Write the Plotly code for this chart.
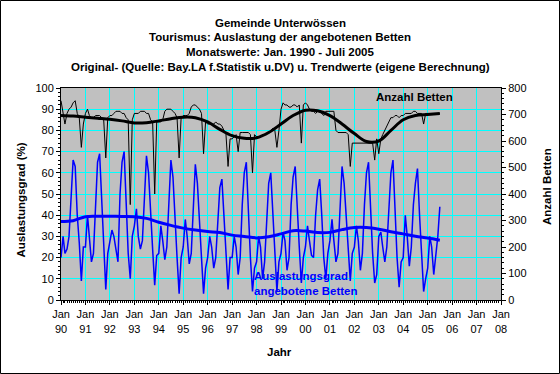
import pandas as pd
import plotly.graph_objects as go

# ---------------- data ----------------
# Auslastungsgrad (%) monthly, Jan..Dec
a1990 = [20, 30, 22, 24, 30, 52, 66, 63, 40, 27, 9, 25]
a1991 = [25, 40, 30, 18, 22, 45, 65, 69, 45, 25, 5, 22]
a1992 = [28, 33, 30, 24, 18, 50, 65, 70, 48, 22, 10, 30]
a1993 = [35, 43, 30, 24, 28, 50, 68, 60, 38, 24, 7, 21]
a1994 = [22, 35, 28, 19, 25, 45, 66, 58, 35, 20, 3, 20]
a1995 = [25, 38, 30, 17, 22, 45, 64, 55, 35, 20, 3, 15]
a1996 = [20, 30, 25, 15, 20, 40, 53, 57, 40, 25, 5, 20]
a1997 = [20, 30, 25, 12, 20, 45, 60, 65, 40, 20, 4, 15]
a1998 = [18, 30, 25, 10, 18, 40, 55, 60, 40, 20, 4, 18]
a1999 = [22, 32, 28, 14, 20, 45, 58, 63, 40, 25, 8, 20]
a2000 = [25, 35, 28, 21, 20, 40, 52, 57, 40, 20, 10, 22]
a2001 = [28, 38, 28, 18, 22, 45, 63, 55, 38, 22, 9, 22]
a2002 = [25, 35, 28, 14, 22, 45, 60, 65, 40, 22, 8, 12]
a2003 = [30, 32, 25, 18, 25, 45, 60, 66, 40, 20, 6, 18]
a2004 = [20, 40, 30, 16, 25, 45, 55, 62, 40, 20, 4, 10]
a2005 = [15, 30, 25, 12, 20, 30, 44]

# Anzahl Betten monthly, Jan..Dec
b1990 = [752, 696, 664, 704, 720, 728, 744, 752, 704, 688, 576, 664]
b1991 = [704, 720, 696, 688, 688, 696, 696, 696, 688, 680, 536, 688]
b1992 = [696, 696, 704, 712, 712, 712, 704, 704, 688, 680, 360, 680]
b1993 = [704, 704, 704, 712, 712, 712, 704, 704, 680, 672, 400, 672]
b1994 = [672, 672, 680, 712, 720, 720, 720, 712, 704, 688, 536, 688]
b1995 = [696, 696, 696, 704, 728, 736, 736, 728, 720, 704, 552, 672]
b1996 = [664, 664, 664, 664, 672, 664, 664, 656, 640, 624, 504, 608]
b1997 = [608, 616, 624, 560, 632, 632, 632, 632, 632, 624, 480, 624]
b1998 = [616, 616, 616, 624, 624, 624, 632, 640, 648, 640, 576, 640]
b1999 = [720, 744, 736, 736, 728, 728, 736, 736, 728, 736, 592, 736]
b2000 = [744, 736, 720, 712, 712, 704, 712, 712, 704, 696, 712, 712]
b2001 = [712, 712, 712, 640, 632, 632, 632, 632, 632, 624, 504, 592]
b2002 = [592, 592, 592, 592, 592, 592, 592, 592, 592, 592, 528, 608]
b2003 = [552, 608, 624, 640, 656, 672, 688, 688, 696, 696, 688, 696]
b2004 = [696, 704, 704, 704, 704, 712, 712, 704, 704, 704, 664, 704]
b2005 = [704, 704, 704, 704, 704, 704, 704]

# Trend values (month index from Jan 1990)
trend_months = [0, 6, 12, 18, 24, 30, 36, 42, 48, 54, 60, 66, 72, 78, 84, 90,
                96, 102, 108, 114, 120, 126, 132, 138, 144, 150, 156, 162, 168,
                174, 180, 186]
trend_auslastung = [37, 37.4, 39.3, 39.5, 39.5, 39.4, 39.3, 38.5, 36.7, 35.2,
                    33.9, 33.0, 32.3, 31.8, 30.6, 30.0, 29.3, 29.8, 31.2, 32.7,
                    32.5, 31.8, 31.9, 33.2, 34.2, 34.2, 33.4, 32.2, 31.2, 30.1,
                    29.2, 28.2]
trend_betten = [696, 694, 690, 686, 682, 676, 668, 669, 676, 684, 690, 688,
                672, 644, 620, 610, 612, 632, 664, 696, 716, 714, 696, 664,
                628, 598, 600, 640, 680, 696, 700, 704]

tick_labels = ["Jan<br>90", "Jan<br>91", "Jan<br>92", "Jan<br>93", "Jan<br>94",
               "Jan<br>95", "Jan<br>96", "Jan<br>97", "Jan<br>98", "Jan<br>99",
               "Jan<br>00", "Jan<br>01", "Jan<br>02", "Jan<br>03", "Jan<br>04",
               "Jan<br>05", "Jan<br>06", "Jan<br>07", "Jan<br>08"]

auslastung = (a1990 + a1991 + a1992 + a1993 + a1994 + a1995 + a1996 + a1997 +
              a1998 + a1999 + a2000 + a2001 + a2002 + a2003 + a2004 + a2005)
betten = (b1990 + b1991 + b1992 + b1993 + b1994 + b1995 + b1996 + b1997 +
          b1998 + b1999 + b2000 + b2001 + b2002 + b2003 + b2004 + b2005)

dates = pd.date_range("1990-01-01", periods=len(auslastung), freq="MS")
trend_dates = [dates[i] for i in trend_months]
tick_dates = pd.date_range("1990-01-01", "2008-01-01", freq="YS")

FONT = "Liberation Sans, Arial, sans-serif"

fig = go.Figure()
fig.add_trace(go.Scatter(x=dates, y=betten, yaxis="y2", mode="lines",
                         line=dict(color="black", width=1), hoverinfo="skip"))
fig.add_trace(go.Scatter(x=trend_dates, y=trend_betten, yaxis="y2", mode="lines",
                         line=dict(color="black", width=3, shape="spline"),
                         hoverinfo="skip"))
fig.add_trace(go.Scatter(x=dates, y=auslastung, mode="lines",
                         line=dict(color="#0000FF", width=1.5), hoverinfo="skip"))
fig.add_trace(go.Scatter(x=trend_dates, y=trend_auslastung, mode="lines",
                         line=dict(color="#0000FF", width=3, shape="spline"),
                         hoverinfo="skip"))

W, H = 560, 374
L, R, T, B = 61, 59, 88, 74
pw, ph = W - L - R, H - T - B

def px(x):
    return (x - L) / pw

def py(y):
    return (H - B - y) / ph

fig.update_layout(
    width=W, height=H,
    margin=dict(l=L, r=R, t=T, b=B, pad=0),
    paper_bgcolor="white", plot_bgcolor="#C0C0C0",
    showlegend=False,
    font=dict(family=FONT, size=11, color="black"),
    xaxis=dict(
        type="date",
        range=[tick_dates[0], tick_dates[-1]],
        tickvals=list(tick_dates), ticktext=tick_labels,
        showgrid=True, gridcolor="#00FFFF", gridwidth=1,
        ticks="outside", ticklen=4, tickcolor="black",
        minor=dict(dtick="M1", ticks="outside", ticklen=2, tickcolor="black",
                   showgrid=False),
        showline=True, linecolor="black", linewidth=1, mirror=True,
        zeroline=False, tickangle=0,
        tickfont=dict(size=11),
    ),
    yaxis=dict(
        range=[0, 100], dtick=10, tick0=0,
        showgrid=True, gridcolor="#00FFFF", gridwidth=1,
        ticks="outside", ticklen=4, tickcolor="black",
        minor=dict(dtick=2, ticks="outside", ticklen=2, tickcolor="black",
                   showgrid=False),
        showline=True, linecolor="black", linewidth=1,
        zeroline=False, tickfont=dict(size=11),
    ),
    yaxis2=dict(
        range=[0, 800], dtick=100, tick0=0, overlaying="y", side="right",
        showgrid=False, ticks="outside", ticklen=4, tickcolor="black",
        minor=dict(dtick=20, ticks="outside", ticklen=2, tickcolor="black"),
        showline=True, linecolor="black", linewidth=1,
        zeroline=False, tickfont=dict(size=11),
    ),
)

titles = ["Gemeinde Unterwössen",
          "Tourismus: Auslastung der angebotenen Betten",
          "Monatswerte: Jan. 1990 - Juli 2005",
          "Original- (Quelle: Bay.LA f.Statistik u.DV) u. Trendwerte (eigene Berechnung)"]
title_y = [22.7, 36.7, 52.3, 66.7]
annotations = []
for t, yy in zip(titles, title_y):
    annotations.append(dict(text="<b>%s</b>" % t, x=px(280), y=py(yy),
                            xref="paper", yref="paper", showarrow=False,
                            xanchor="center", yanchor="middle",
                            font=dict(size=11.5, color="black")))
annotations += [
    dict(text="<b>Auslastungsgrad (%)</b>", x=px(20.5), y=py(200),
         xref="paper", yref="paper", showarrow=False, textangle=-90,
         xanchor="center", yanchor="middle", font=dict(size=11.5)),
    dict(text="<b>Anzahl Betten</b>", x=px(547), y=py(187),
         xref="paper", yref="paper", showarrow=False, textangle=-90,
         xanchor="center", yanchor="middle", font=dict(size=11.5)),
    dict(text="<b>Jahr</b>", x=px(279), y=py(352),
         xref="paper", yref="paper", showarrow=False,
         xanchor="center", yanchor="middle", font=dict(size=11.5)),
    dict(text="<b>Anzahl Betten</b>", x=px(374), y=py(97),
         xref="paper", yref="paper", showarrow=False,
         xanchor="left", yanchor="middle", font=dict(size=11.5, color="black")),
    dict(text="<b>Auslastungsgrad<br>angebotene Betten</b>", x=px(252), y=py(283),
         xref="paper", yref="paper", showarrow=False, align="left",
         xanchor="left", yanchor="middle",
         font=dict(size=11.5, color="#0000FF")),
]
fig.update_layout(annotations=annotations)

# outer chart border
fig.add_shape(type="rect", xref="paper", yref="paper",
              x0=px(0.5), x1=px(W - 0.5), y0=py(H - 0.5), y1=py(0.5),
              line=dict(color="black", width=1), fillcolor="rgba(0,0,0,0)",
              layer="above")

fig.write_html("out.html",
               config={"displayModeBar": False},
               post_script="document.body.style.margin='0';"
                           "document.body.style.padding='0';")
